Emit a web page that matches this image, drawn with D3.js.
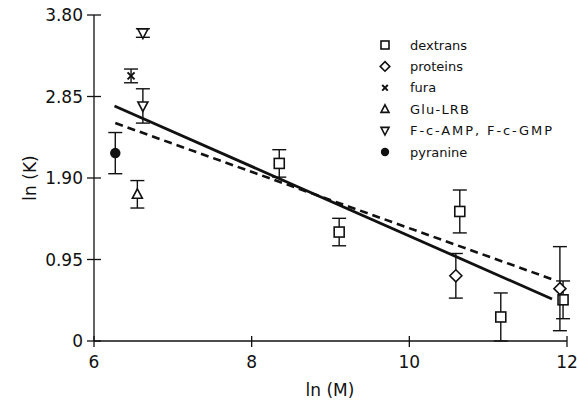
<!DOCTYPE html>
<html>
<head>
<meta charset="utf-8">
<script src="https://cdn.jsdelivr.net/npm/d3@7"></script>
<style>
  html, body { margin: 0; padding: 0; background: #fff; }
  svg { display: block; font-family: "DejaVu Sans", sans-serif; }
</style>
</head>
<body>
<svg id="chart" width="577" height="408"></svg>
<script>
/* ln(K) vs ln(M) scatter with two fit lines */

// data
const dextransM = [8.35, 9.11, 10.64, 11.16, 11.95];
const dextransK = [2.07, 1.27, 1.51, 0.28, 0.48];
const dextransErr = [0.16, 0.16, 0.25, 0.28, 0.22];

const proteinsM = [10.59, 11.91];
const proteinsK = [0.76, 0.61];
const proteinsErr = [0.26, 0.49];

const furaM = [6.47];
const furaK = [3.09];
const furaErr = [0.08];

const gluM = [6.55];
const gluK = [1.71];
const gluErr = [0.16];

const fcM = [6.62, 6.62];
const fcK = [3.59, 2.74];
const fcErr = [0.05, 0.20];

const pyranineM = [6.27];
const pyranineK = [2.19];
const pyranineErr = [0.24];

const solidFitM = [6.26, 11.81];
const solidFitK = [2.74, 0.49];
const dashedFitM = [6.27, 11.81];
const dashedFitK = [2.54, 0.72];

const xTicks = [6, 8, 10, 12];
const yTicks = [0, 0.95, 1.90, 2.85, 3.80];
const yTickLabels = ['0', '0.95', '1.90', '2.85', '3.80'];

const legendNames = ['dextrans', 'proteins', 'fura', 'Glu-LRB', 'F-c-AMP, F-c-GMP', 'pyranine'];

(function() {
  'use strict';

  const svg = d3.select('#chart');

  const x = d3.scaleLinear().domain([6, 12]).range([94, 567]);
  const y = d3.scaleLinear().domain([0, 3.8]).range([341, 15]);

  const zip = (ms, ks, es) => ms.map((m, i) => ({ m: m, k: ks[i], e: es[i] }));

  const series = [
    { name: legendNames[0], shape: 'square', pts: zip(dextransM, dextransK, dextransErr) },
    { name: legendNames[1], shape: 'diamond', pts: zip(proteinsM, proteinsK, proteinsErr) },
    { name: legendNames[2], shape: 'cross', pts: zip(furaM, furaK, furaErr) },
    { name: legendNames[3], shape: 'triUp', pts: zip(gluM, gluK, gluErr) },
    { name: legendNames[4], shape: 'triDown', pts: zip(fcM, fcK, fcErr) },
    { name: legendNames[5], shape: 'dot', pts: zip(pyranineM, pyranineK, pyranineErr) }
  ];

  // axes - ticks cross the axis line
  const axes = svg.append('g').attr('stroke', '#111').attr('stroke-width', 1.3);
  axes.append('line').attr('x1', x(6)).attr('x2', x(12)).attr('y1', y(0)).attr('y2', y(0));
  axes.append('line').attr('x1', x(6)).attr('x2', x(6)).attr('y1', y(0)).attr('y2', y(3.8));

  axes.selectAll('.xt').data(xTicks).enter().append('line')
    .attr('x1', d => x(d)).attr('x2', d => x(d))
    .attr('y1', y(0) - 5).attr('y2', y(0) + 6);
  axes.selectAll('.yt').data(yTicks).enter().append('line')
    .attr('x1', x(6) - 7).attr('x2', x(6) + 7)
    .attr('y1', d => y(d)).attr('y2', d => y(d));

  svg.append('g').selectAll('text').data(xTicks).enter().append('text')
    .attr('x', d => x(d)).attr('y', y(0) + 27)
    .attr('text-anchor', 'middle')
    .style('font-size', '17px').style('fill', '#111')
    .text(d => d);

  svg.append('g').selectAll('text').data(yTicks).enter().append('text')
    .attr('x', x(6) - 11).attr('y', d => y(d)).attr('dy', '0.36em')
    .attr('text-anchor', 'end')
    .style('font-size', '17px').style('fill', '#111')
    .text((d, i) => yTickLabels[i]);

  svg.append('text')
    .attr('x', 330).attr('y', 396)
    .attr('text-anchor', 'middle')
    .style('font-size', '17px').style('fill', '#111')
    .text('ln (M)');

  svg.append('text')
    .attr('transform', 'translate(36,178) rotate(-90)')
    .attr('text-anchor', 'middle')
    .style('font-size', '17px').style('fill', '#111')
    .text('ln (K)');

  // fit lines
  const line = d3.line().x(d => x(d[0])).y(d => y(d[1]));
  svg.append('path')
    .datum(solidFitM.map((m, i) => [m, solidFitK[i]]))
    .attr('d', line)
    .attr('fill', 'none').attr('stroke', '#111').attr('stroke-width', 2.8);
  svg.append('path')
    .datum(dashedFitM.map((m, i) => [m, dashedFitK[i]]))
    .attr('d', line)
    .attr('fill', 'none').attr('stroke', '#111').attr('stroke-width', 2.6)
    .attr('stroke-dasharray', '8,5');

  function drawMarker(g, shape, cx, cy, s) {
    const h = s / 2;
    if (shape === 'square') {
      g.append('rect').attr('x', cx - h).attr('y', cy - h).attr('width', s).attr('height', s)
        .attr('fill', '#fff').attr('stroke', '#111').attr('stroke-width', 1.6);
    } else if (shape === 'diamond') {
      const r = h * 1.2;
      g.append('path').attr('d', `M${cx},${cy - r}L${cx + r},${cy}L${cx},${cy + r}L${cx - r},${cy}Z`)
        .attr('fill', '#fff').attr('stroke', '#111').attr('stroke-width', 1.6);
    } else if (shape === 'triUp') {
      g.append('path').attr('d', `M${cx},${cy - h * 1.1}L${cx + h},${cy + h * 0.8}L${cx - h},${cy + h * 0.8}Z`)
        .attr('fill', '#fff').attr('stroke', '#111').attr('stroke-width', 1.6);
    } else if (shape === 'triDown') {
      g.append('path').attr('d', `M${cx},${cy + h * 1.1}L${cx + h},${cy - h * 0.8}L${cx - h},${cy - h * 0.8}Z`)
        .attr('fill', '#fff').attr('stroke', '#111').attr('stroke-width', 1.6);
    } else if (shape === 'cross') {
      const r = h * 0.7;
      g.append('path').attr('d', `M${cx - r},${cy - r}L${cx + r},${cy + r}M${cx - r},${cy + r}L${cx + r},${cy - r}`)
        .attr('fill', 'none').attr('stroke', '#111').attr('stroke-width', 2);
    } else if (shape === 'dot') {
      g.append('circle').attr('cx', cx).attr('cy', cy).attr('r', h * 1.05).attr('fill', '#111');
    }
  }

  // error bars + markers
  const marks = svg.append('g');
  series.forEach(s => {
    s.pts.forEach(p => {
      const cx = x(p.m);
      const top = y(p.k + p.e);
      const bot = y(Math.max(0, p.k - p.e));
      const g = marks.append('g');
      g.append('line').attr('x1', cx).attr('x2', cx).attr('y1', top).attr('y2', bot)
        .attr('stroke', '#111').attr('stroke-width', 1.4);
      [top, bot].forEach(yy => {
        g.append('line').attr('x1', cx - 7).attr('x2', cx + 7).attr('y1', yy).attr('y2', yy)
          .attr('stroke', '#111').attr('stroke-width', 1.4);
      });
      drawMarker(g, s.shape, cx, y(p.k), 10);
    });
  });

  // legend
  const legend = svg.append('g').attr('transform', 'translate(385,45)');
  series.forEach((s, i) => {
    const row = legend.append('g').attr('transform', `translate(0,${i * 21.4})`);
    drawMarker(row, s.shape, 0, 0, 8);
    row.append('text')
      .attr('x', 25).attr('y', 0).attr('dy', '0.36em')
      .style('font-size', '13px').style('fill', '#111')
      .style('letter-spacing', i === 3 ? '1.2px' : (i === 4 ? '1.9px' : '0px'))
      .text(s.name);
  });
})();
</script>
</body>
</html>
